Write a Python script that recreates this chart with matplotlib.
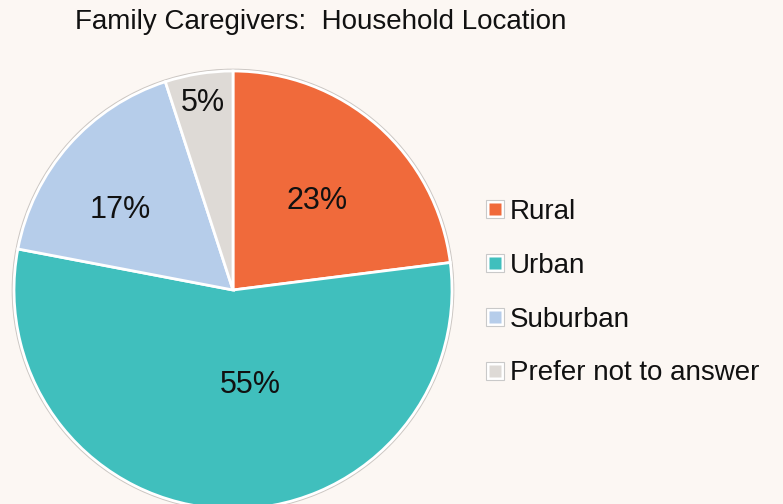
import matplotlib
matplotlib.use("Agg")
import matplotlib.pyplot as plt
import numpy as np
from matplotlib.lines import Line2D
from matplotlib.legend_handler import HandlerTuple
from matplotlib.patches import Circle

categories = ["Rural", "Urban", "Suburban", "Prefer not to answer"]
shares = [23, 55, 17, 5]
colors = ["#F06A3B", "#40BFBD", "#B6CDEA", "#DEDAD6"]
title = "Family Caregivers:  Household Location"

BG = "#FCF7F3"
plt.rcParams["font.family"] = ["Liberation Sans", "DejaVu Sans"]

fig = plt.figure(figsize=(7.83, 5.04), dpi=100, facecolor=BG)
ax = fig.add_axes([0, 0, 1, 1])
ax.set_facecolor(BG)

# pie laid out in pixel units; it runs off the bottom edge like the original
center, radius = (233, 214), 219
ax.add_patch(Circle(center, radius + 1.5, facecolor="none",
                    edgecolor="#cbc6c2", lw=1.2, zorder=0))
wedges, _ = ax.pie(
    shares, colors=colors, startangle=90, counterclock=False,
    center=center, radius=radius, frame=True,
    wedgeprops=dict(edgecolor="white", linewidth=2))

# label placement: fraction of radius, nudge in degrees from the wedge middle
label_r = [0.557, 0.44, 0.63, 0.865]
label_nudge = [-2, 12, 6, 0]
cum = np.cumsum([0] + shares)
for i, v in enumerate(shares):
    mid = np.deg2rad(90 - 3.6 * (cum[i] + v / 2) + label_nudge[i])
    r = radius * label_r[i]
    ax.text(center[0] + r * np.cos(mid), center[1] + r * np.sin(mid), f"{v}%",
            ha="center", va="center", fontsize=22, color="#111111")

ax.set_xlim(0, 783)
ax.set_ylim(0, 504)
ax.set_aspect("equal")
ax.axis("off")

fig.text(0.409, 0.956, title, ha="center", va="center",
         fontsize=20, color="#111111")

handles = [(Line2D([], [], marker="s", ls="", markersize=12.5, markerfacecolor="white",
                   markeredgecolor="#c9c9c9", markeredgewidth=0.8),
            Line2D([], [], marker="s", ls="", markersize=8.5, markerfacecolor=c,
                   markeredgecolor="none")) for c in colors]
leg = ax.legend(handles, categories, handler_map={tuple: HandlerTuple(ndivide=1)},
                loc="center left", bbox_to_anchor=(0.589, 0.419), frameon=False,
                fontsize=20, handlelength=0.65, handletextpad=0.2, labelspacing=1.0)
for t in leg.get_texts():
    t.set_color("#111111")

fig.savefig("out.png", dpi=100, facecolor=BG)
